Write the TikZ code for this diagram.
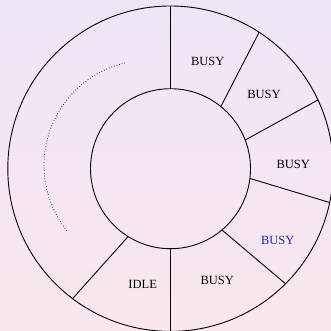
\documentclass[tikz,border=0pt]{standalone}
\usepackage{fontspec}
\setmainfont{Liberation Serif}
\definecolor{bgtop}{RGB}{238,230,246}
\definecolor{bgbot}{RGB}{250,230,238}
\definecolor{busyblue}{RGB}{35,35,185}
\tikzset{
	ring/.style={circle,draw,line width=.9pt,outer sep=0pt,inner sep=0pt},
	slot/.style={font=\fontsize{12.5}{14}\selectfont,inner sep=0pt}
}
\begin{document}
\begin{tikzpicture}[x=1pt,y=1pt,line width=.9pt]
				\shade[top color=bgtop,bottom color=bgbot] (-170.5,-162.3) rectangle (160.5,168.7);
				\useasboundingbox (-170.5,-162.3) rectangle (160.5,168.7);
				\node (outer) [ring,minimum size=325.4] at (0,0) {};
				\node (inner) [ring,minimum size=160] at (0,0) {};
				\draw (inner.90) -- (outer.90);
				\draw (inner.51.3) -- (outer.57.4);
				\draw (inner.21.5) -- (outer.25.5);
				\draw (inner.-7.6) -- (outer.-12.6);
				\draw (inner.-50.3) -- (outer.-45.9);
				\draw (inner.-90) -- (outer.-90);
				\draw (inner.-122) -- (outer.-127.8);
				\node (b1) [slot] at (37.2,107.4) {BUSY};
				\node (b2) [slot] at (93.5,74) {BUSY};
				\node (b3) [slot] at (122.8,4) {BUSY};
				\node (b4) [slot,text=busyblue] at (107.2,-71.8) {BUSY};
				\node (b5) [slot] at (46.8,-112) {BUSY};
				\node (i1) [slot] at (-27.8,-116) {IDLE};
				\coordinate (dc) at (-21.3,3.4);
				\draw[dotted,line width=.7pt] (dc) ++(103.3:105.2) arc[start angle=103.3,end angle=218.4,radius=105.2];
			\end{tikzpicture}
\end{document}
